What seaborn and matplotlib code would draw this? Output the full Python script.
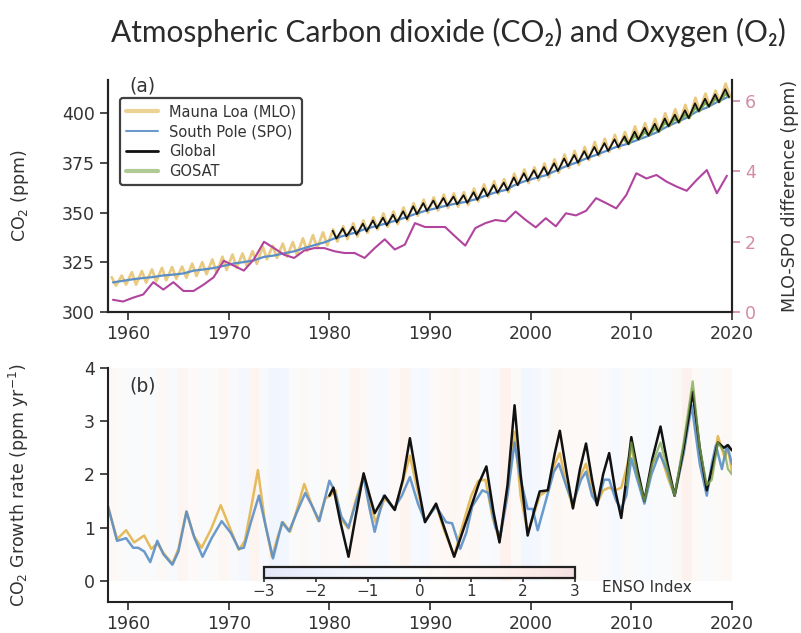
import matplotlib
matplotlib.use("Agg")
import matplotlib.pyplot as plt
from matplotlib.lines import Line2D
import seaborn as sns
import numpy as np

# ---------------- panel (a): CO2 concentration (ppm) ----------------
years = np.arange(1958, 2020)
# Mauna Loa seasonal maxima (May) and minima (Oct)
mlo_peak = [317.5, 318.3,
            320.0, 320.6, 321.4, 322.2, 322.6, 322.8, 324.3, 325.0, 326.4, 327.8,
            328.9, 329.4, 330.6, 333.0, 333.3, 334.4, 335.1, 337.0, 338.6, 340.0,
            341.5, 343.1, 344.6, 346.0, 347.6, 349.5, 350.5, 352.5, 354.6, 356.4,
            357.6, 359.0, 359.6, 360.2, 362.0, 364.1, 365.7, 366.7, 369.5, 371.6,
            372.7, 374.6, 376.7, 379.1, 380.9, 382.9, 385.4, 387.0, 389.0, 390.4,
            393.2, 394.8, 397.0, 399.8, 401.8, 404.0, 407.6, 409.7, 411.2, 414.7]
mlo_trough = [313.3, 313.8,
              313.8, 314.8, 315.4, 316.0, 316.7, 317.2, 318.1, 319.0, 319.7, 321.2,
              322.3, 323.3, 324.2, 326.5, 327.2, 327.9, 328.7, 330.7, 332.2, 333.5,
              335.4, 336.6, 338.0, 339.8, 341.5, 342.9, 344.2, 346.0, 348.4, 349.8,
              351.0, 352.3, 352.9, 353.8, 355.6, 357.6, 359.3, 360.2, 363.8, 364.8,
              366.1, 367.7, 370.0, 372.4, 373.9, 376.4, 378.5, 380.4, 382.2, 384.3,
              386.9, 388.6, 390.6, 393.4, 395.3, 397.5, 401.0, 403.4, 405.6, 408.5]
# South Pole annual means
spo_annual = [314.9, 315.7,
              316.5, 317.1, 317.6, 318.4, 318.8, 319.4, 320.8, 321.4, 322.1, 323.2,
              324.4, 325.1, 326.0, 327.7, 328.4, 329.5, 330.5, 332.1, 333.6, 335.0,
              337.0, 338.4, 339.8, 341.6, 343.0, 344.3, 345.8, 347.4, 349.2, 350.8,
              352.0, 353.3, 354.4, 355.3, 356.6, 358.4, 360.1, 361.3, 364.0, 365.9,
              367.3, 368.7, 371.0, 373.2, 375.0, 377.1, 378.9, 380.9, 382.9, 384.3,
              386.2, 388.1, 390.2, 393.0, 395.3, 397.6, 400.7, 402.7, 405.4, 407.8]
# Global (marine surface) seasonal maxima / minima
glob_years = np.arange(1980, 2020)
glob_peak = [340.8, 342.0, 342.8, 344.4, 346.0, 347.4, 348.9, 350.6, 353.1, 354.7,
             356.0, 357.3, 358.0, 358.7, 360.2, 362.1, 363.8, 365.0, 367.6, 369.7,
             371.2, 372.8, 374.7, 377.1, 378.9, 380.8, 382.9, 384.8, 386.7, 388.2,
             390.6, 392.5, 394.5, 397.2, 399.1, 401.3, 404.8, 407.1, 409.3, 411.9]
glob_trough = [336.9, 338.1, 338.9, 340.5, 342.1, 343.5, 345.0, 346.7, 349.2, 350.8,
               352.1, 353.4, 354.1, 354.8, 356.3, 358.2, 359.9, 361.1, 363.7, 365.8,
               367.3, 368.9, 370.8, 373.2, 375.0, 376.9, 379.0, 380.9, 382.8, 384.3,
               386.7, 388.6, 390.6, 393.3, 395.2, 397.4, 400.9, 403.2, 405.4, 408.0]
# GOSAT
gosat_years = np.arange(2009, 2020)
gosat_peak = [386.3, 388.6, 390.5, 392.5, 395.3, 397.2, 399.3, 402.7, 405.1, 407.3, 409.7]
gosat_trough = [384.4, 386.7, 388.6, 390.6, 393.4, 395.3, 397.4, 400.8, 403.2, 405.4, 407.8]
# MLO - SPO difference (ppm), annual
mlo_spo_diff = [0.35, 0.30,
                0.41, 0.50, 0.85, 0.64, 0.85, 0.60, 0.60, 0.78, 0.99, 1.46,
                1.32, 1.18, 1.50, 2.00, 1.82, 1.63, 1.54, 1.75, 1.82, 1.82,
                1.73, 1.68, 1.68, 1.54, 1.82, 2.07, 1.78, 1.92, 2.53, 2.42,
                2.42, 2.42, 2.15, 1.89, 2.39, 2.53, 2.62, 2.58, 2.86, 2.62,
                2.41, 2.67, 2.44, 2.81, 2.75, 2.88, 3.24, 3.10, 2.95, 3.33,
                3.95, 3.80, 3.90, 3.71, 3.57, 3.45, 3.76, 4.04, 3.38, 3.88]

# ---------------- panel (b): growth rate (ppm/yr), (time, value) ----------------
mlo_growth = [(1958.0, 1.40), (1958.9, 0.78), (1959.8, 0.95), (1960.6, 0.72), (1961.6, 0.85),
              (1962.3, 0.60), (1962.9, 0.70), (1963.6, 0.50), (1964.4, 0.32), (1965.0, 0.60),
              (1965.8, 1.30), (1966.5, 0.85), (1967.3, 0.62), (1968.2, 0.95), (1969.2, 1.42),
              (1970.1, 1.00), (1971.0, 0.58), (1971.6, 0.75), (1972.2, 1.35), (1972.9, 2.08),
              (1973.6, 1.10), (1974.3, 0.45), (1974.9, 0.85), (1975.4, 1.10), (1976.1, 0.92),
              (1976.8, 1.35), (1977.5, 1.82), (1978.2, 1.45), (1978.9, 1.12), (1979.6, 1.55),
              (1980.1, 1.60), (1980.6, 1.70), (1981.2, 1.15), (1981.9, 0.98), (1982.6, 1.50),
              (1983.4, 1.98), (1984.0, 1.50), (1984.6, 1.10), (1985.5, 1.55), (1986.5, 1.35),
              (1987.2, 1.80), (1988.0, 2.35), (1988.7, 1.75), (1989.5, 1.12), (1990.6, 1.43),
              (1991.4, 0.95), (1992.4, 0.47), (1993.1, 0.95), (1994.1, 1.60), (1994.8, 1.88),
              (1995.5, 1.90), (1996.2, 1.20), (1996.9, 0.75), (1997.7, 1.70), (1998.4, 2.80),
              (1999.0, 1.60), (1999.7, 0.90), (2000.4, 1.30), (2000.9, 1.60), (2001.7, 1.70),
              (2002.4, 2.20), (2002.9, 2.40), (2003.6, 1.75), (2004.2, 1.38), (2005.0, 2.00),
              (2005.5, 2.20), (2006.1, 1.70), (2006.6, 1.45), (2007.2, 1.70), (2007.8, 1.75),
              (2008.4, 1.70), (2009.0, 1.75), (2009.5, 2.10), (2010.0, 2.50), (2010.6, 2.00),
              (2011.3, 1.50), (2012.1, 2.20), (2012.9, 2.40), (2013.6, 1.95), (2014.3, 1.60),
              (2015.2, 2.40), (2016.1, 3.60), (2016.8, 2.40), (2017.5, 1.70), (2018.0, 2.00),
              (2018.6, 2.72), (2019.3, 2.30), (2019.6, 2.50), (2020.0, 2.05)]
spo_growth = [(1958.0, 1.40), (1958.9, 0.75), (1959.8, 0.80), (1960.5, 0.62), (1961.0, 0.62),
              (1961.6, 0.55), (1962.2, 0.35), (1962.9, 0.75), (1963.5, 0.50), (1964.4, 0.30),
              (1965.0, 0.55), (1965.8, 1.30), (1966.6, 0.80), (1967.4, 0.45), (1968.3, 0.80),
              (1969.3, 1.12), (1970.2, 0.90), (1971.0, 0.60), (1971.5, 0.62), (1972.2, 1.10),
              (1973.0, 1.60), (1973.7, 1.00), (1974.4, 0.42), (1975.3, 1.10), (1976.0, 0.93),
              (1976.8, 1.30), (1977.6, 1.65), (1978.3, 1.40), (1979.0, 1.12), (1980.0, 1.88),
              (1980.5, 1.70), (1981.2, 1.20), (1981.9, 1.00), (1982.6, 1.45), (1983.4, 1.95),
              (1984.0, 1.35), (1984.5, 0.92), (1985.4, 1.60), (1986.4, 1.35), (1987.2, 1.60),
              (1988.0, 1.95), (1988.8, 1.45), (1989.5, 1.12), (1990.6, 1.40), (1991.6, 1.10),
              (1992.2, 1.08), (1993.0, 0.60), (1993.6, 0.90), (1994.2, 1.40), (1995.2, 1.70),
              (1995.8, 1.65), (1996.5, 1.00), (1997.0, 0.85), (1997.7, 1.60), (1998.4, 2.60),
              (1999.0, 1.90), (1999.7, 1.35), (2000.2, 1.35), (2000.7, 0.95), (2001.5, 1.50),
              (2002.3, 2.05), (2002.8, 2.20), (2003.5, 1.80), (2004.2, 1.45), (2005.0, 1.90),
              (2005.5, 2.05), (2006.1, 1.60), (2006.6, 1.45), (2007.3, 1.90), (2007.8, 1.90),
              (2008.5, 1.50), (2009.0, 1.35), (2009.5, 1.60), (2010.0, 2.30), (2010.6, 1.90),
              (2011.3, 1.45), (2012.0, 2.00), (2012.8, 2.40), (2013.6, 2.05), (2014.3, 1.60),
              (2015.2, 2.40), (2016.0, 3.30), (2016.8, 2.20), (2017.5, 1.60), (2018.0, 2.20),
              (2018.4, 2.55), (2019.0, 2.10), (2019.5, 2.55), (2020.0, 2.20)]
glob_growth = [(1980.0, 1.60), (1980.4, 1.75), (1981.1, 1.10), (1981.9, 0.45), (1982.6, 1.20),
               (1983.4, 2.02), (1984.0, 1.60), (1984.5, 1.27), (1985.5, 1.60), (1986.5, 1.33),
               (1987.3, 1.90), (1988.0, 2.68), (1988.8, 1.80), (1989.5, 1.10), (1990.6, 1.45),
               (1991.5, 0.95), (1992.4, 0.45), (1993.2, 0.90), (1994.1, 1.40), (1994.9, 1.85),
               (1995.6, 2.15), (1996.3, 1.30), (1996.9, 0.72), (1997.7, 1.80), (1998.4, 3.30),
               (1999.0, 2.00), (1999.7, 0.85), (2000.4, 1.35), (2000.9, 1.68), (2001.7, 1.70),
               (2002.4, 2.40), (2002.9, 2.82), (2003.6, 2.00), (2004.2, 1.36), (2004.9, 2.10),
               (2005.5, 2.58), (2006.1, 1.90), (2006.6, 1.42), (2007.2, 2.00), (2007.8, 2.40),
               (2008.4, 1.70), (2009.0, 1.18), (2009.5, 1.90), (2010.0, 2.70), (2010.6, 2.10),
               (2011.3, 1.50), (2012.1, 2.30), (2012.9, 2.90), (2013.6, 2.20), (2014.3, 1.60),
               (2015.2, 2.50), (2016.1, 3.55), (2016.8, 2.50), (2017.5, 1.70), (2018.0, 2.10),
               (2018.6, 2.60), (2019.2, 2.50), (2019.6, 2.55), (2020.0, 2.45)]
gosat_growth = [(2009.5, 1.80), (2010.0, 2.60), (2010.6, 2.00), (2011.3, 1.50), (2012.1, 2.20),
                (2012.9, 2.60), (2013.6, 2.10), (2014.3, 1.60), (2015.2, 2.60), (2016.1, 3.75),
                (2016.8, 2.50), (2017.5, 1.80), (2018.0, 1.90), (2018.6, 2.60), (2019.3, 2.40),
                (2019.6, 2.10), (2020.0, 2.00)]
# ENSO index, annual means 1958-2019
enso_index = [0.6, 0.0,
              -0.1, 0.0, -0.3, 0.5, -0.5, 1.1, 0.3, -0.3, 0.1, 0.7,
              -0.4, -1.0, 1.2, -0.4, -1.3, -1.2, 0.0, 0.5, -0.1, 0.2,
              0.3, -0.2, 1.1, 0.6, -0.4, -0.6, 0.4, 1.2, -0.6, -0.8,
              0.3, 0.6, 0.7, 0.3, 0.5, -0.2, -0.4, 1.4, 0.1, -1.2,
              -1.0, -0.3, 0.7, 0.4, 0.4, 0.1, 0.3, -0.5, -0.8, 0.2,
              -0.3, -0.7, -0.1, -0.3, 0.2, 1.5, 0.4, -0.1, 0.1, 0.5]

mlo_c = "#e2b44c"
spo_c = "#5b8fc7"
glob_c = "#111111"
gosat_c = "#7aa84f"
diff_c = "#b0449e"
text_c = "#333333"

sns.set_theme(style="ticks")
plt.rcParams["font.family"] = ["DejaVu Sans"]
plt.rcParams["axes.edgecolor"] = "#222222"
plt.rcParams["axes.linewidth"] = 1.5
plt.rcParams["xtick.color"] = text_c
plt.rcParams["ytick.color"] = text_c
plt.rcParams["xtick.labelsize"] = 12.5
plt.rcParams["ytick.labelsize"] = 12.5


def zigzag(yrs, hi, lo, t_hi, t_lo):
    t = np.column_stack([yrs + t_hi, yrs + t_lo]).ravel()
    v = np.column_stack([hi, lo]).ravel()
    return t, v


fig = plt.figure(figsize=(8.01, 6.33), dpi=100)
ax1 = fig.add_axes([0.1348, 0.507, 0.779, 0.3665])
ax2 = fig.add_axes([0.1348, 0.049, 0.779, 0.3696])
ax1r = ax1.twinx()

# ---- panel (a) ----
t, v = zigzag(years, mlo_peak, mlo_trough, 0.37, 0.79)
sns.lineplot(x=t, y=v, ax=ax1, color=mlo_c, lw=2.0, alpha=0.7, sort=False, estimator=None)
sns.lineplot(x=years + 0.5, y=spo_annual, ax=ax1, color=spo_c, lw=1.6, sort=False, estimator=None)
t, v = zigzag(gosat_years, gosat_peak, gosat_trough, 0.35, 0.72)
sns.lineplot(x=t, y=v, ax=ax1, color=gosat_c, lw=1.8, sort=False, estimator=None)
t, v = zigzag(glob_years, glob_peak, glob_trough, 0.33, 0.70)
sns.lineplot(x=t, y=v, ax=ax1, color=glob_c, lw=1.3, sort=False, estimator=None)

sns.lineplot(x=years + 0.5, y=mlo_spo_diff, ax=ax1r, color=diff_c, lw=1.5, sort=False, estimator=None)

ax1.set_xlim(1958, 2020)
ax1.set_ylim(300, 416.5)
ax1.set_yticks([300, 325, 350, 375, 400])
ax1.set_xticks(range(1960, 2021, 10))
ax1.set_ylabel("CO$_2$ (ppm)", fontsize=12.5, color=text_c)
ax1.yaxis.set_label_coords(-0.123, 0.5)
ax1r.set_ylim(0, 6.6)
ax1r.set_yticks([0, 2, 4, 6])
ax1r.tick_params(axis="y", colors="#d48aa8", labelcolor="#d48aa8")
ax1r.set_ylabel("MLO-SPO difference (ppm)", fontsize=12.5, color=text_c, labelpad=18)
ax1r.spines["right"].set_color("#222222")
for s in ["top"]:
    ax1.spines[s].set_visible(False)
    ax1r.spines[s].set_visible(False)
ax1.text(0.035, 0.975, "(a)", transform=ax1.transAxes, fontsize=13.5, color=text_c, va="center")

handles = [Line2D([], [], color=mlo_c, lw=3, alpha=0.6),
           Line2D([], [], color=spo_c, lw=1.5, alpha=0.9),
           Line2D([], [], color=glob_c, lw=2),
           Line2D([], [], color=gosat_c, lw=3, alpha=0.6)]
leg = ax1.legend(handles, ["Mauna Loa (MLO)", "South Pole (SPO)", "Global", "GOSAT"],
                 loc="upper left", bbox_to_anchor=(0.019, 0.922), borderaxespad=0,
                 fontsize=10.5, frameon=True, fancybox=True, handlelength=2.2,
                 labelspacing=0.35, borderpad=0.4)
leg.get_frame().set_edgecolor("#111111")
leg.get_frame().set_linewidth(1.6)
for txt in leg.get_texts():
    txt.set_color(text_c)

# ---- panel (b) ----
im = ax2.imshow(np.array([enso_index]), extent=[1958, 2020, 0, 4], aspect="auto",
                cmap="coolwarm", vmin=-3, vmax=3, alpha=0.13, interpolation="nearest", zorder=0)
for series, col, lw, al in [(mlo_growth, mlo_c, 1.8, 0.9), (spo_growth, spo_c, 1.8, 0.9),
                            (glob_growth, glob_c, 1.8, 1.0), (gosat_growth, gosat_c, 1.6, 0.75)]:
    tt, vv = zip(*series)
    sns.lineplot(x=list(tt), y=list(vv), ax=ax2, color=col, lw=lw, alpha=al, sort=False, estimator=None)

ax2.set_xlim(1958, 2020)
ax2.set_ylim(-0.4, 4)
ax2.set_yticks([0, 1, 2, 3, 4])
ax2.set_xticks(range(1960, 2021, 10))
ax2.set_ylabel("CO$_2$ Growth rate (ppm yr$^{-1}$)", fontsize=12.5, color=text_c)
ax2.yaxis.set_label_coords(-0.123, 0.5)
sns.despine(ax=ax2)
ax2.text(0.035, 0.925, "(b)", transform=ax2.transAxes, fontsize=13.5, color=text_c, va="center")

cax = fig.add_axes([264 / 801, 1 - 578 / 633, 311 / 801, 11.5 / 633])
cb = fig.colorbar(im, cax=cax, orientation="horizontal", ticks=[-3, -2, -1, 0, 1, 2, 3])
cb.outline.set_linewidth(1.6)
cb.outline.set_edgecolor("#222222")
cax.tick_params(labelsize=11, colors=text_c, length=3, pad=1)
fig.text(602 / 801, 1 - 587 / 633, "ENSO Index", fontsize=11, color=text_c, va="center", ha="left")

fig.text(0.56, 0.948, "Atmospheric Carbon dioxide (CO\u2082) and Oxygen (O\u2082)",
         family=["Lato", "DejaVu Sans"], fontsize=21.5, color="#2b2b2b",
         ha="center", va="center")

fig.savefig("out.png", dpi=100)
